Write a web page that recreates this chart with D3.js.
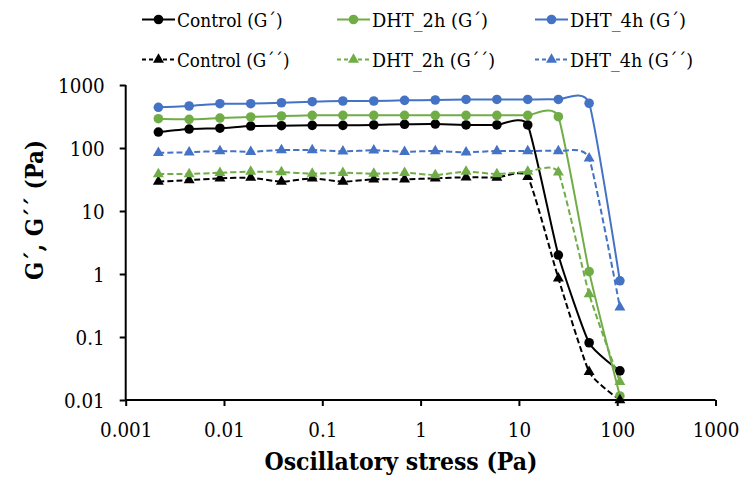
<!DOCTYPE html>
<html><head><meta charset="utf-8">
<script src="https://cdn.jsdelivr.net/npm/d3@7"></script>
<style>body{margin:0;background:#fff}svg{display:block}</style>
</head><body><svg id="c" width="752" height="482"></svg>
<script>
const stress = [0.00215, 0.00442, 0.00909, 0.0187, 0.0384, 0.0790, 0.162, 0.334, 0.687, 1.41, 2.90, 5.97, 12.3, 25.2, 51.8, 106.5];
const controlG1 = [179, 200, 206, 223, 226, 229, 229, 232, 238, 240, 232, 232, 232, 2.0, 0.081, 0.029];
const dht2hG1 = [292, 285, 299, 311, 322, 330, 330, 330, 330, 330, 330, 330, 330, 314, 1.09, 0.0116];
const dht4hG1 = [443, 464, 505, 505, 523, 543, 557, 557, 571, 578, 590, 590, 590, 590, 513, 0.78];
const controlG2 = [29.2, 31, 33, 33.8, 29.2, 33, 29.2, 31.8, 31.8, 33, 34.3, 34, 35, 0.855, 0.028, 0.01];
const dht2hG2 = [38.7, 38.7, 40.5, 42.1, 41.6, 39.1, 40.5, 39.1, 40.5, 37.3, 42.1, 38.7, 42.1, 41.1, 0.48, 0.0195];
const dht4hG2 = [84, 85.5, 89.6, 87.3, 92.9, 92.9, 88.6, 91.9, 87.3, 89.6, 85.5, 89.6, 89.6, 89.6, 68.7, 0.296];
const seriesNames = ["Control (G´)", "DHT_2h (G´)", "DHT_4h (G´)", "Control (G´´)", "DHT_2h (G´´)", "DHT_4h (G´´)"];
const xTicks = [0.001, 0.01, 0.1, 1, 10, 100, 1000];
const xTickLabels = ["0.001", "0.01", "0.1", "1", "10", "100", "1000"];
const yTicks = [0.01, 0.1, 1, 10, 100, 1000];
const yTickLabels = ["0.01", "0.1", "1", "10", "100", "1000"];
const xTitle = "Oscillatory stress (Pa)";
const yTitle = "G´, G´´ (Pa)";

const FONT = "DejaVu Serif";
// Times-like advance widths (em) used to size the serif text
const tw = {"0":.5,"1":.5,"2":.5,"3":.5,"4":.5,"5":.5,"6":.5,"7":.5,"8":.5,"9":.5,".":.25,"C":.667,"o":.5,"n":.5,"t":.278,"r":.333,"l":.278," ":.25,"(":.333,")":.333,"G":.722,"´":.333,"D":.722,"H":.722,"T":.611,"_":.5,"h":.5};
const timesWidth = (s, size) => Array.from(s).reduce((a, c) => a + (tw[c] || .5), 0) * size;
function fit(sel, w) { sel.attr("textLength", w).attr("lengthAdjust", "spacingAndGlyphs"); }

const colors = ["#000000", "#70AD47", "#4472C4"];
const series = [
  {name: seriesNames[0], values: controlG1, color: colors[0], dashed: false},
  {name: seriesNames[1], values: dht2hG1, color: colors[1], dashed: false},
  {name: seriesNames[2], values: dht4hG1, color: colors[2], dashed: false},
  {name: seriesNames[3], values: controlG2, color: colors[0], dashed: true},
  {name: seriesNames[4], values: dht2hG2, color: colors[1], dashed: true},
  {name: seriesNames[5], values: dht4hG2, color: colors[2], dashed: true}
];

const svg = d3.select("#c");
svg.append("rect").attr("width", 752).attr("height", 482).attr("fill", "#fff");
const L = 125.7, R = 715.5, T = 85, B = 400;
const x = d3.scaleLog().domain([0.001, 1000]).range([L, R]);
const y = d3.scaleLog().domain([0.01, 1000]).range([B, T]);

// axes
const xAxis = d3.axisBottom(x).tickValues(xTicks).tickFormat((d, i) => xTickLabels[i]).tickSize(6);
const yAxis = d3.axisLeft(y).tickValues(yTicks).tickFormat((d, i) => yTickLabels[i]).tickSize(6).tickPadding(15);
const gx = svg.append("g").attr("transform", `translate(0,${B})`).call(xAxis);
const gy = svg.append("g").attr("transform", `translate(${L},0)`).call(yAxis);
[gx, gy].forEach(g => {
  g.attr("font-family", FONT).attr("font-size", 21);
  g.select(".domain").attr("stroke", "#000").attr("stroke-width", 2);
  g.selectAll(".tick line").attr("stroke", "#000").attr("stroke-width", 2);
  g.selectAll(".tick text").attr("fill", "#000").each(function() {
    fit(d3.select(this), timesWidth(this.textContent, 23.3));
  });
});
gx.selectAll(".tick text").attr("dy", null).attr("y", 37);
gy.selectAll(".tick text").attr("dy", "0.36em");
gx.select(".domain").attr("d", `M${L},0H${R}`);
gy.select(".domain").attr("d", `M0,${B}V${T}`);

// lines
const line = d3.line().x((d, i) => x(stress[i])).y(d => y(d)).curve(d3.curveCardinal.tension(0.5));
const tri = d3.symbol().type(d3.symbolTriangle).size(52);
series.forEach(s => {
  svg.append("path").datum(s.values).attr("d", line).attr("fill", "none")
    .attr("stroke", s.color).attr("stroke-width", 2)
    .attr("stroke-dasharray", s.dashed ? "6,3" : null);
});
series.forEach(s => {
  const g = svg.append("g");
  if (!s.dashed) {
    g.selectAll("circle").data(s.values).join("circle")
      .attr("cx", (d, i) => x(stress[i])).attr("cy", d => y(d)).attr("r", 4.8).attr("fill", s.color);
  } else {
    g.selectAll("path").data(s.values).join("path").attr("d", tri)
      .attr("transform", (d, i) => `translate(${x(stress[i])},${y(d)})`).attr("fill", s.color);
  }
});

// titles
fit(svg.append("text").attr("x", 401).attr("y", 470).attr("text-anchor", "middle")
  .attr("font-family", FONT).attr("font-size", 25).attr("font-weight", "bold").text(xTitle), 273);
fit(svg.append("text").attr("transform", "translate(43,210) rotate(-90)").attr("text-anchor", "middle")
  .attr("font-family", FONT).attr("font-size", 25).attr("font-weight", "bold").text(yTitle), 140);

// legend
const legX = [142, 337, 535], legY = [19.5, 59.5];
series.forEach((s, k) => {
  const cx = legX[k % 3], cy = legY[Math.floor(k / 3)];
  const g = svg.append("g");
  g.append("line").attr("x1", cx).attr("x2", cx + 33).attr("y1", cy).attr("y2", cy)
    .attr("stroke", s.color).attr("stroke-width", 2).attr("stroke-dasharray", s.dashed ? "4,3" : null);
  if (!s.dashed) g.append("circle").attr("cx", cx + 16.5).attr("cy", cy).attr("r", 4.8).attr("fill", s.color);
  else g.append("path").attr("d", tri).attr("transform", `translate(${cx + 16.5},${cy})`).attr("fill", s.color);
  fit(g.append("text").attr("x", cx + 35).attr("y", cy + 7).attr("font-family", FONT).attr("font-size", 19).text(s.name),
    timesWidth(s.name, 21));
});
</script></body></html>
